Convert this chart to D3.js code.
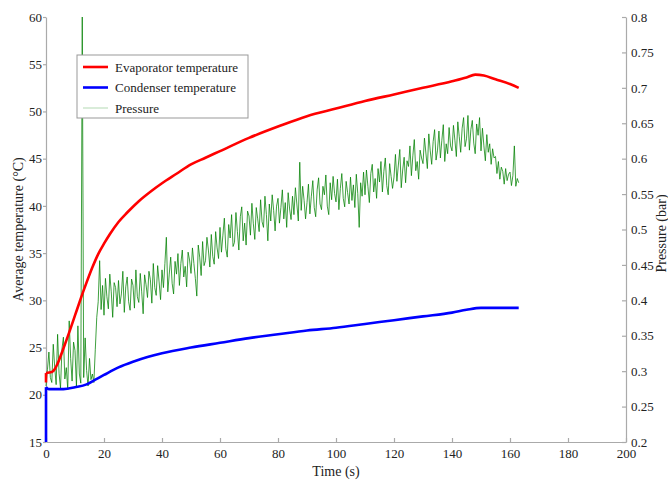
<!DOCTYPE html>
<html>
<head>
<meta charset="utf-8">
<script src="https://cdn.jsdelivr.net/npm/d3@7"></script>
<style>
  body { margin: 0; background: #fff; }
  text { font-family: "Liberation Serif", "Times New Roman", serif; fill: #222; }
  .axis path, .axis line { stroke: #aaa; stroke-width: 1.2; }
  .axis text { font-size: 13px; fill: #222; }
</style>
</head>
<body>
<div id="chart"></div>
<script>
// Evaporator temperature (°C)
const evapTime = [0, 0, 2, 3, 4, 6, 8, 10, 12, 14, 16, 18, 20, 22, 25, 28, 32, 36, 40, 45, 50, 55, 60, 70, 80, 90, 100, 110, 120, 130, 140, 145, 148, 151, 155, 160, 163];
const evapTemp = [21.3, 22.3, 22.4, 22.7, 23.3, 24.9, 26.6, 28.4, 30.2, 31.9, 33.5, 34.9, 36.0, 37.0, 38.3, 39.3, 40.5, 41.5, 42.4, 43.4, 44.4, 45.1, 45.8, 47.2, 48.4, 49.5, 50.3, 51.1, 51.8, 52.5, 53.2, 53.6, 53.9, 53.8, 53.4, 52.9, 52.5];

// Condenser temperature (°C)
const condTime = [0, 0, 1, 3, 6, 10, 14, 17, 20, 25, 30, 35, 40, 50, 60, 70, 80, 90, 100, 110, 120, 130, 140, 145, 150, 155, 160, 163];
const condTemp = [15, 20.8, 20.6, 20.6, 20.6, 20.8, 21.1, 21.6, 22.1, 22.9, 23.5, 24.0, 24.4, 25.0, 25.5, 26.0, 26.4, 26.8, 27.1, 27.5, 27.9, 28.3, 28.7, 29.0, 29.2, 29.2, 29.2, 29.2];

// Pressure (bar), sampled every 0.5 s from t = 0
const pressureStep = 0.5;
const pressure = [
  0.279, 0.302, 0.327, 0.291, 0.284, 0.338, 0.306, 0.281, 0.352, 0.297,
  0.276, 0.331, 0.348, 0.289, 0.305, 0.274, 0.371, 0.318, 0.286, 0.341,
  0.329, 0.278, 0.364, 0.296, 0.283, 0.800, 0.291, 0.347, 0.301, 0.279,
  0.318, 0.288, 0.296, 0.284, 0.331, 0.376, 0.398, 0.456, 0.387, 0.421,
  0.379, 0.431, 0.405, 0.388, 0.437, 0.412, 0.376, 0.425, 0.418, 0.391,
  0.428, 0.395, 0.409, 0.441, 0.383, 0.419, 0.433, 0.398, 0.386, 0.430,
  0.421, 0.389, 0.443, 0.405, 0.397, 0.438, 0.412, 0.381, 0.436, 0.422,
  0.404, 0.441, 0.429, 0.396, 0.452, 0.418, 0.407, 0.449, 0.426, 0.401,
  0.443, 0.418, 0.452, 0.489, 0.412, 0.437, 0.461, 0.424, 0.409, 0.455,
  0.437, 0.466, 0.421, 0.452, 0.471, 0.433, 0.448, 0.419, 0.468, 0.457,
  0.438, 0.474, 0.452, 0.431, 0.406, 0.478, 0.461, 0.435, 0.483, 0.449,
  0.456, 0.489, 0.471, 0.447, 0.493, 0.462, 0.451, 0.497, 0.474, 0.459,
  0.503, 0.468, 0.492, 0.516, 0.473, 0.461, 0.507, 0.488, 0.521, 0.476,
  0.482, 0.524, 0.497, 0.471, 0.518, 0.532, 0.484, 0.509, 0.478, 0.526,
  0.519, 0.492, 0.537, 0.508, 0.486, 0.531, 0.515, 0.497, 0.542, 0.511,
  0.503, 0.547, 0.521, 0.484, 0.536, 0.512, 0.549, 0.527, 0.498, 0.533,
  0.544, 0.509, 0.531, 0.556, 0.515, 0.538, 0.503, 0.552, 0.529, 0.514,
  0.547, 0.521, 0.559, 0.536, 0.512, 0.595, 0.527, 0.561, 0.541, 0.515,
  0.538, 0.564, 0.522, 0.547, 0.569, 0.531, 0.518, 0.556, 0.573, 0.536,
  0.528, 0.561, 0.549, 0.577, 0.533, 0.521, 0.566, 0.542, 0.575, 0.551,
  0.539, 0.571, 0.528, 0.558, 0.579, 0.544, 0.532, 0.568, 0.552, 0.536,
  0.574, 0.541, 0.563, 0.531, 0.578, 0.551, 0.503, 0.566, 0.547, 0.581,
  0.549, 0.584, 0.561, 0.538, 0.579, 0.592, 0.553, 0.572, 0.544, 0.586,
  0.567, 0.596, 0.553, 0.582, 0.601, 0.562, 0.549, 0.593, 0.575, 0.558,
  0.574, 0.606, 0.568, 0.591, 0.613, 0.559, 0.584, 0.602, 0.566, 0.597,
  0.589, 0.618, 0.576, 0.604, 0.627, 0.583, 0.596, 0.571, 0.612, 0.601,
  0.593, 0.629, 0.608, 0.586, 0.635, 0.611, 0.592, 0.624, 0.641, 0.598,
  0.612, 0.639, 0.601, 0.626, 0.648, 0.596, 0.621, 0.607, 0.644, 0.618,
  0.611, 0.647, 0.626, 0.603, 0.652, 0.631, 0.609, 0.643, 0.658, 0.617,
  0.628, 0.661, 0.612, 0.641, 0.654, 0.622, 0.607, 0.649, 0.633, 0.658,
  0.611, 0.643, 0.618, 0.597, 0.634, 0.609, 0.621, 0.592, 0.614, 0.601,
  0.603, 0.579, 0.596, 0.571, 0.588, 0.582, 0.564, 0.586, 0.569, 0.578,
  0.581, 0.562, 0.576, 0.618, 0.561, 0.572, 0.566
];

const timeTicks = [0, 20, 40, 60, 80, 100, 120, 140, 160, 180, 200];
const tempTicks = [15, 20, 25, 30, 35, 40, 45, 50, 55, 60];
const pressureTicks = [0.2, 0.25, 0.3, 0.35, 0.4, 0.45, 0.5, 0.55, 0.6, 0.65, 0.7, 0.75, 0.8];

const legendItems = [
  { label: "Evaporator temperature", color: "#ff0000", width: 2.6, opacity: 1 },
  { label: "Condenser temperature", color: "#0000ff", width: 2.6, opacity: 1 },
  { label: "Pressure", color: "#008000", width: 1, opacity: 0.3 },
];

const width = 668;
const height = 483;
const margin = { top: 17, right: 42, bottom: 41, left: 46 };

const x = d3.scaleLinear().domain([0, 200]).range([margin.left, width - margin.right]);
const y = d3.scaleLinear().domain([15, 60]).range([height - margin.bottom, margin.top]);
const yP = d3.scaleLinear().domain([0.2, 0.8]).range([height - margin.bottom, margin.top]);

const svg = d3.select("#chart")
  .append("svg")
  .attr("width", width)
  .attr("height", height);

// axes
svg.append("g")
  .attr("class", "axis")
  .attr("transform", `translate(0,${height - margin.bottom})`)
  .call(d3.axisBottom(x).tickValues(timeTicks).tickSize(-4).tickSizeOuter(0).tickPadding(7));

svg.append("g")
  .attr("class", "axis")
  .attr("transform", `translate(${margin.left},0)`)
  .call(d3.axisLeft(y).tickValues(tempTicks).tickSize(3).tickSizeOuter(0).tickPadding(1));

svg.append("g")
  .attr("class", "axis")
  .attr("transform", `translate(${width - margin.right},0)`)
  .call(d3.axisRight(yP).tickValues(pressureTicks).tickFormat(d3.format("")).tickSize(-4).tickSizeOuter(0).tickPadding(5));

svg.append("text")
  .attr("text-anchor", "middle")
  .attr("font-size", 14)
  .attr("x", (margin.left + width - margin.right) / 2)
  .attr("y", 476)
  .text("Time (s)");

svg.append("text")
  .attr("text-anchor", "middle")
  .attr("font-size", 14)
  .attr("transform", `translate(23,${(margin.top + height - margin.bottom) / 2})rotate(-90)`)
  .text("Average temperature (°C)");

svg.append("text")
  .attr("text-anchor", "middle")
  .attr("font-size", 14)
  .attr("transform", `translate(666,${(margin.top + height - margin.bottom) / 2 + 4})rotate(-90)`)
  .text("Pressure (bar)");

// series
const plot = svg.append("g");

plot.append("path")
  .datum(pressure)
  .attr("fill", "none")
  .attr("stroke", "#008000")
  .attr("stroke-width", 1)
  .attr("stroke-opacity", 0.75)
  .attr("d", d3.line()
    .x((d, i) => x(i * pressureStep))
    .y((d) => yP(d)));

// each temperature trace: a straight first step at t = 0, then a smooth curve
function drawTemp(times, temps, color) {
  const pts = times.map((t, i) => [x(t), y(temps[i])]);
  plot.append("path")
    .datum(pts.slice(0, 2))
    .attr("fill", "none")
    .attr("stroke", color)
    .attr("stroke-width", 2.6)
    .attr("d", d3.line());
  plot.append("path")
    .datum(pts.slice(1))
    .attr("fill", "none")
    .attr("stroke", color)
    .attr("stroke-width", 2.6)
    .attr("stroke-linejoin", "round")
    .attr("d", d3.line().curve(d3.curveMonotoneX));
}

drawTemp(evapTime, evapTemp, "#ff0000");
drawTemp(condTime, condTemp, "#0000ff");

// legend
const legend = svg.append("g").attr("transform", "translate(77,55)");

legend.append("rect")
  .attr("width", 171)
  .attr("height", 63)
  .attr("fill", "#fff")
  .attr("stroke", "#999")
  .attr("stroke-width", 1);

const item = legend.selectAll(".item")
  .data(legendItems)
  .join("g")
  .attr("class", "item")
  .attr("transform", (d, i) => `translate(0,${12 + i * 20.5})`);

item.append("line")
  .attr("x1", 6)
  .attr("x2", 31)
  .attr("stroke", (d) => d.color)
  .attr("stroke-width", (d) => d.width)
  .attr("stroke-opacity", (d) => d.opacity);

item.append("text")
  .attr("x", 38)
  .attr("dy", "0.35em")
  .attr("font-size", 13)
  .text((d) => d.label);
</script>
</body>
</html>
